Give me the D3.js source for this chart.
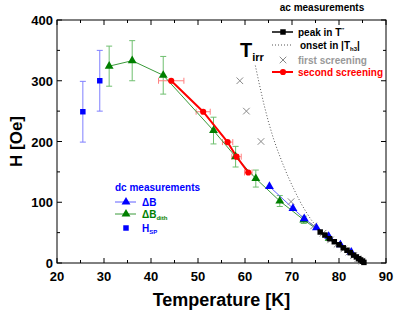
<!DOCTYPE html>
<html>
<head>
<meta charset="utf-8">
<script src="https://cdn.jsdelivr.net/npm/d3@7"></script>
<style>
  body { margin: 0; background: #fff; }
  svg text { font-family: "Liberation Sans", Arial, sans-serif; font-weight: bold; }
</style>
</head>
<body>
<svg id="chart" width="397" height="315"></svg>
<script>
// ---- data ----
var xTicks = [20, 30, 40, 50, 60, 70, 80, 90];
var yTicks = [0, 100, 200, 300, 400];

// dc: H_SP  [T, H, dH]
var hspT = [25.5, 29.1];
var hspH = [249, 300];
var hspErr = [50, 50];

// dc: dB_dith  [T, H, dH]
var dithT = [31.1, 36.0, 42.6, 53.3, 58.0, 62.3, 67.4, 72.5, 77.9];
var dithH = [324, 333, 309, 218, 175, 139, 102, 71, 41];
var dithErr = [33, 33, 31, 22, 17, 14, 9, 6, 0];

// dc: dB
var dbT = [65.2, 70.2, 72.6, 75.2, 77.8, 80.3, 82.6];
var dbH = [126, 90, 73, 58, 44, 30, 18];

// ac: second screening [T, H, dT]
var secT = [44.3, 51.1, 56.3, 58.2, 60.7];
var secH = [300, 249, 199, 175, 149];
var secErr = [2.7, 1.5, 1.1, 1.0, 0.8];

// ac: first screening
var firstT = [58.9, 60.3, 63.4, 69.8, 74.6, 76.6, 78.2, 79.6, 81.0, 82.1, 83.1, 84.0, 84.9];
var firstH = [300, 250, 200, 101, 61, 49, 38, 31, 23, 18, 12, 7, 3];

// ac: peak in T''
var peakT = [76.0, 77.0, 78.0, 79.0, 80.0, 80.9, 81.7, 82.4, 83.1, 83.7, 84.2, 84.6, 85.0, 85.3];
var peakH = [51, 46, 40, 35, 30, 25, 21, 17, 13, 10, 7, 5, 3, 1];

// ac: onset in |T_h3|
var onsetT = [62.2, 63.0, 64.0, 65.0, 66.0, 67.0, 68.0, 69.0, 70.0, 71.0, 72.0, 73.0, 74.0, 75.0, 76.0, 77.0];
var onsetH = [325, 296, 262, 232, 206, 184, 164, 145, 128, 112, 97, 84, 72, 62, 53, 46];

// ---- layout ----
var svg = d3.select("#chart");
var L = 57, R = 386, T = 20, B = 263;
var x = d3.scaleLinear().domain([20, 90]).range([L, R]);
var y = d3.scaleLinear().domain([0, 400]).range([B, T]);

function pts(xs, ys) { return xs.map(function(d, i) { return [d, ys[i]]; }); }
var line = d3.line().x(function(d) { return x(d[0]); }).y(function(d) { return y(d[1]); });

// frame
svg.append("rect").attr("x", L).attr("y", T).attr("width", R - L).attr("height", B - T)
  .attr("fill", "none").attr("stroke", "#000").attr("stroke-width", 1);

// ticks pointing inward on all sides
var xMinor = d3.range(25, 90, 10);
var yMinor = d3.range(50, 400, 100);
var tg = svg.append("g").attr("stroke", "#000").attr("stroke-width", 1);
xTicks.forEach(function(t) {
  tg.append("line").attr("x1", x(t)).attr("x2", x(t)).attr("y1", B).attr("y2", B - 5);
  tg.append("line").attr("x1", x(t)).attr("x2", x(t)).attr("y1", T).attr("y2", T + 5);
});
xMinor.forEach(function(t) {
  tg.append("line").attr("x1", x(t)).attr("x2", x(t)).attr("y1", B).attr("y2", B - 3);
  tg.append("line").attr("x1", x(t)).attr("x2", x(t)).attr("y1", T).attr("y2", T + 3);
});
yTicks.forEach(function(t) {
  tg.append("line").attr("x1", L).attr("x2", L + 5).attr("y1", y(t)).attr("y2", y(t));
  tg.append("line").attr("x1", R).attr("x2", R - 5).attr("y1", y(t)).attr("y2", y(t));
});
yMinor.forEach(function(t) {
  tg.append("line").attr("x1", L).attr("x2", L + 3).attr("y1", y(t)).attr("y2", y(t));
  tg.append("line").attr("x1", R).attr("x2", R - 3).attr("y1", y(t)).attr("y2", y(t));
});

// tick labels
svg.selectAll(".xl").data(xTicks).enter().append("text")
  .attr("x", function(d) { return x(d); }).attr("y", 281)
  .attr("text-anchor", "middle").attr("font-size", 13).text(function(d) { return d; });
svg.selectAll(".yl").data(yTicks).enter().append("text")
  .attr("x", L - 4).attr("y", function(d) { return y(d) + 5; })
  .attr("text-anchor", "end").attr("font-size", 13).text(function(d) { return d; });

// axis titles
svg.append("text").attr("x", (L + R) / 2).attr("y", 306).attr("text-anchor", "middle")
  .attr("font-size", 18).text("Temperature [K]");
svg.append("text").attr("transform", "translate(22," + ((T + B) / 2) + ") rotate(-90)")
  .attr("text-anchor", "middle").attr("font-size", 17).text("H [Oe]");

// ---- series ----
// onset, dotted
svg.append("path").datum(pts(onsetT, onsetH)).attr("d", line)
  .attr("fill", "none").attr("stroke", "#555").attr("stroke-width", 1).attr("stroke-dasharray", "1,2");

// error bars (vertical)
function vErr(xs, ys, es, col) {
  var g = svg.append("g").attr("stroke", col).attr("stroke-width", 1);
  xs.forEach(function(t, i) {
    if (!es[i]) return;
    var cx = x(t), y1 = y(ys[i] + es[i]), y2 = y(ys[i] - es[i]);
    g.append("line").attr("x1", cx).attr("x2", cx).attr("y1", y1).attr("y2", y2);
    g.append("line").attr("x1", cx - 3).attr("x2", cx + 3).attr("y1", y1).attr("y2", y1);
    g.append("line").attr("x1", cx - 3).attr("x2", cx + 3).attr("y1", y2).attr("y2", y2);
  });
}
vErr(hspT, hspH, hspErr, "#7f7fff");
vErr(dithT, dithH, dithErr, "#6fbf6f");

// horizontal error bars for second screening
var he = svg.append("g").attr("stroke", "#ff8080").attr("stroke-width", 1);
secT.forEach(function(t, i) {
  var cy = y(secH[i]), x1 = x(t - secErr[i]), x2 = x(t + secErr[i]);
  he.append("line").attr("x1", x1).attr("x2", x2).attr("y1", cy).attr("y2", cy);
  he.append("line").attr("x1", x1).attr("x2", x1).attr("y1", cy - 3).attr("y2", cy + 3);
  he.append("line").attr("x1", x2).attr("x2", x2).attr("y1", cy - 3).attr("y2", cy + 3);
});

// lines
svg.append("path").datum(pts(dithT, dithH)).attr("d", line)
  .attr("fill", "none").attr("stroke", "#3a9a3a").attr("stroke-width", 1);
svg.append("path").datum(pts(dbT, dbH)).attr("d", line)
  .attr("fill", "none").attr("stroke", "#6060ff").attr("stroke-width", 1);
svg.append("path").datum(pts(peakT, peakH)).attr("d", line)
  .attr("fill", "none").attr("stroke", "#000").attr("stroke-width", 1.5);
svg.append("path").datum(pts(secT, secH)).attr("d", line)
  .attr("fill", "none").attr("stroke", "#ff0000").attr("stroke-width", 2);

var tri = d3.symbol().type(d3.symbolTriangle).size(34);
var sq = d3.symbol().type(d3.symbolSquare).size(30);
var cross = d3.symbol().type(d3.symbolX).size(30);

function marks(xs, ys, sym, attrs) {
  var s = svg.append("g").selectAll("path").data(pts(xs, ys)).enter().append("path")
    .attr("transform", function(d) { return "translate(" + x(d[0]) + "," + y(d[1]) + ")"; })
    .attr("d", sym);
  for (var k in attrs) s.attr(k, attrs[k]);
}
marks(firstT, firstH, cross, { fill: "none", stroke: "#888", "stroke-width": 1 });
marks(dithT, dithH, tri, { fill: "#007f00" });
marks(dbT, dbH, tri, { fill: "#0000ff" });
marks(hspT, hspH, sq, { fill: "#0000ff" });
marks(peakT, peakH, sq, { fill: "#000" });
marks(secT, secH, d3.symbol().type(d3.symbolCircle).size(30), { fill: "#ff0000" });

// ---- annotations ----
svg.append("text").attr("x", 322).attr("y", 11).attr("text-anchor", "middle")
  .attr("font-size", 10).text("ac measurements");

var tirr = svg.append("text").attr("x", 240).attr("y", 57).attr("font-size", 20);
tirr.append("tspan").text("T");
tirr.append("tspan").attr("font-size", 11).attr("dy", 4).text("irr");

// ac legend
var lx1 = 272, lx2 = 293, lt = 298;
function legLine(yy, col, w, dash) {
  var l = svg.append("line").attr("x1", lx1).attr("x2", lx2).attr("y1", yy).attr("y2", yy)
    .attr("stroke", col).attr("stroke-width", w);
  if (dash) l.attr("stroke-dasharray", dash);
}
legLine(32, "#000", 1.5);
svg.append("path").attr("transform", "translate(283,32)").attr("d", sq).attr("fill", "#000");
var t1 = svg.append("text").attr("x", lt).attr("y", 36).attr("font-size", 10);
t1.append("tspan").text("peak in T");
t1.append("tspan").attr("font-size", 6).attr("dy", -4).text("′′");

legLine(45, "#555", 1, "1,2");
var t2 = svg.append("text").attr("x", lt + 2).attr("y", 49).attr("font-size", 10);
t2.append("tspan").text("onset in |T");
t2.append("tspan").attr("font-size", 6).attr("dy", 2).text("h3");
t2.append("tspan").attr("dy", -2).text("|");

svg.append("path").attr("transform", "translate(283,60)").attr("d", cross)
  .attr("fill", "none").attr("stroke", "#888");
svg.append("text").attr("x", lt).attr("y", 64).attr("font-size", 10).attr("fill", "#999")
  .text("first screening");

legLine(72, "#ff0000", 2);
svg.append("path").attr("transform", "translate(283,72)")
  .attr("d", d3.symbol().type(d3.symbolCircle).size(30)).attr("fill", "#ff0000");
svg.append("text").attr("x", lt).attr("y", 76).attr("font-size", 10).attr("fill", "#ff0000")
  .text("second screening");

// dc legend
svg.append("text").attr("x", 115).attr("y", 191).attr("font-size", 10).attr("fill", "#0000ff")
  .text("dc measurements");
svg.append("line").attr("x1", 115).attr("x2", 136).attr("y1", 202).attr("y2", 202)
  .attr("stroke", "#6060ff");
svg.append("path").attr("transform", "translate(126,202)").attr("d", tri).attr("fill", "#0000ff");
svg.append("text").attr("x", 142).attr("y", 206).attr("font-size", 10).attr("fill", "#0000ff")
  .text("ΔB");
svg.append("line").attr("x1", 115).attr("x2", 136).attr("y1", 214).attr("y2", 214)
  .attr("stroke", "#3a9a3a");
svg.append("path").attr("transform", "translate(126,214)").attr("d", tri).attr("fill", "#007f00");
var t3 = svg.append("text").attr("x", 142).attr("y", 218).attr("font-size", 10).attr("fill", "#007f00");
t3.append("tspan").text("ΔB");
t3.append("tspan").attr("font-size", 6).attr("dy", 2).text("dith");
svg.append("path").attr("transform", "translate(126,228)").attr("d", sq).attr("fill", "#0000ff");
var t4 = svg.append("text").attr("x", 142).attr("y", 232).attr("font-size", 10).attr("fill", "#0000ff");
t4.append("tspan").text("H");
t4.append("tspan").attr("font-size", 6).attr("dy", 2).text("SP");
</script>
</body>
</html>
